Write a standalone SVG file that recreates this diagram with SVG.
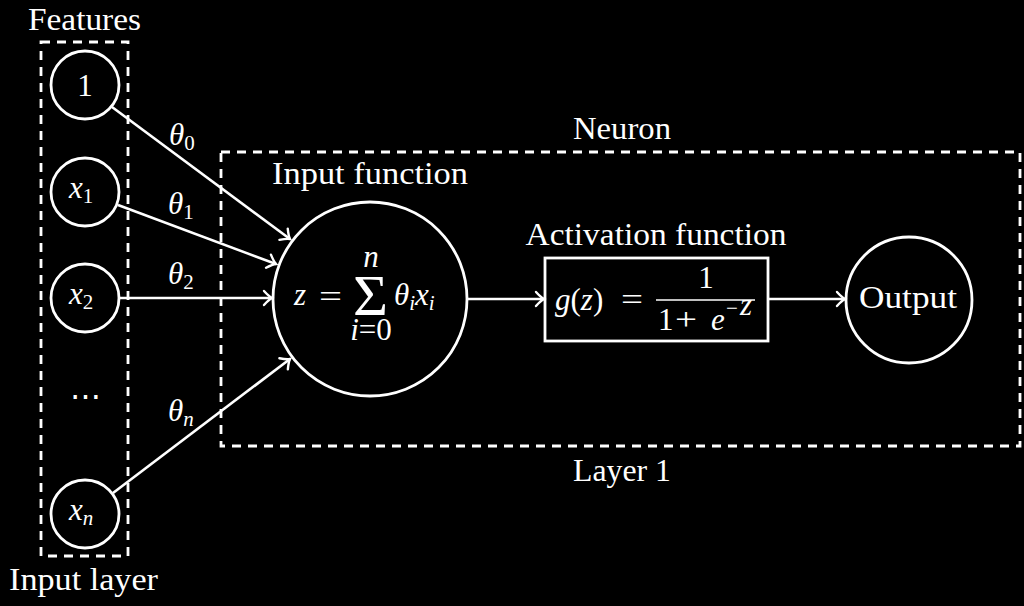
<svg xmlns="http://www.w3.org/2000/svg" width="1024" height="606" viewBox="0 0 1024 606">
<defs>
<style>
.t{font-family:"Liberation Serif","Times New Roman",serif;fill:#fff;font-size:31px}
.m{font-family:"Liberation Serif","Times New Roman",serif;fill:#fff;font-style:italic;font-size:31px}
.r{font-family:"Liberation Serif","Times New Roman",serif;fill:#fff;font-style:normal}
.sub{font-size:21px}
.node{fill:none;stroke:#fff;stroke-width:2.8}
.dash{fill:none;stroke:#fff;stroke-width:2.8;stroke-dasharray:9 7}
.edge{fill:none;stroke:#fff;stroke-width:2.6}
</style>
<marker id="arr" markerUnits="userSpaceOnUse" markerWidth="20" markerHeight="20" refX="0" refY="0" viewBox="-10 -10 20 20" orient="auto" overflow="visible">
<path d="M-8,-7 Q-3,-1.5 0,0 Q-3,1.5 -8,7" fill="none" stroke="#fff" stroke-width="2.4" stroke-linecap="round"/>
</marker>
</defs>
<rect width="1024" height="606" fill="#000"/>

<g id="input-layer">
<rect class="dash" x="41" y="42" width="87" height="514"/>
<text class="t" x="84.5" y="30" text-anchor="middle" textLength="113" lengthAdjust="spacingAndGlyphs">Features</text>
<text class="t" x="83.5" y="590" text-anchor="middle" textLength="149" lengthAdjust="spacingAndGlyphs">Input layer</text>
</g>

<g id="neuron-box">
<rect class="dash" x="221" y="152" width="799" height="294"/>
<text class="t" x="622" y="139" text-anchor="middle" textLength="98" lengthAdjust="spacingAndGlyphs">Neuron</text>
<text class="t" x="622" y="481" text-anchor="middle" textLength="98" lengthAdjust="spacingAndGlyphs">Layer 1</text>
</g>

<g id="node-1">
<circle class="node" cx="85" cy="85" r="34"/>
<text class="t" x="85" y="96" text-anchor="middle">1</text>
</g>
<g id="node-x1">
<circle class="node" cx="85" cy="192" r="34"/>
<text class="m" x="69" y="198">x<tspan class="r sub" dy="5">1</tspan></text>
</g>
<g id="node-x2">
<circle class="node" cx="85" cy="298" r="34"/>
<text class="m" x="69" y="304">x<tspan class="r sub" dy="5">2</tspan></text>
</g>
<g id="dots">
<text class="t" x="85" y="407" text-anchor="middle" textLength="32" lengthAdjust="spacing">⋯</text>
</g>
<g id="node-xn">
<circle class="node" cx="85" cy="514" r="34"/>
<text class="m" x="69" y="520">x<tspan class="sub" dy="5">n</tspan></text>
</g>

<g id="input-function">
<circle class="node" cx="370" cy="299" r="97"/>
<text class="t" x="370" y="184" text-anchor="middle" textLength="196" lengthAdjust="spacingAndGlyphs">Input function</text>
<text class="m" x="294" y="305">z</text>
<text class="r" x="319" y="307" font-size="31" textLength="23" lengthAdjust="spacingAndGlyphs">=</text>
<text class="r" x="353" y="315" font-size="56" textLength="35" lengthAdjust="spacingAndGlyphs">Σ</text>
<text class="m" x="371" y="267" font-size="21" text-anchor="middle">n</text>
<text class="m" x="371" y="340" font-size="21" text-anchor="middle">i<tspan class="r">=0</tspan></text>
<text class="m" x="394" y="305">θ<tspan class="sub" dy="5">i</tspan><tspan dy="-5">x</tspan><tspan class="sub" dy="5">i</tspan></text>
</g>

<g id="activation-function">
<rect class="node" x="545" y="258" width="223" height="83"/>
<text class="t" x="656" y="245" text-anchor="middle" textLength="261" lengthAdjust="spacingAndGlyphs">Activation function</text>
<text class="m" x="555" y="310">g<tspan class="r">(</tspan>z<tspan class="r">)</tspan></text>
<text class="r" x="621" y="310" font-size="31" textLength="22" lengthAdjust="spacingAndGlyphs">=</text>
<text class="r" x="706" y="288" font-size="31" text-anchor="middle">1</text>
<line x1="656" y1="300" x2="755" y2="300" stroke="#fff" stroke-width="1.6"/>
<text class="r" x="658" y="330" font-size="31">1</text>
<text class="r" x="675" y="330" font-size="31" textLength="22" lengthAdjust="spacingAndGlyphs">+</text>
<text class="m" x="711" y="330">e</text>
<text class="r" x="726" y="315" font-size="21">−</text>
<text class="m" x="740" y="315" font-size="21">z</text>
</g>

<g id="output">
<circle class="node" cx="909" cy="300" r="63"/>
<text class="t" x="908" y="308" text-anchor="middle" textLength="98" lengthAdjust="spacingAndGlyphs">Output</text>
</g>

<g id="connectors">
<line class="edge" x1="112" y1="107" x2="290" y2="239" marker-end="url(#arr)"/>
<line class="edge" x1="118" y1="205" x2="276" y2="264" marker-end="url(#arr)"/>
<line class="edge" x1="119" y1="298" x2="272" y2="298" marker-end="url(#arr)"/>
<line class="edge" x1="113" y1="493" x2="290" y2="359" marker-end="url(#arr)"/>
<line class="edge" x1="467" y1="299" x2="544" y2="299" marker-end="url(#arr)"/>
<line class="edge" x1="768" y1="299" x2="845" y2="299" marker-end="url(#arr)"/>
<text class="m" x="169" y="145">θ<tspan class="r sub" dy="5">0</tspan></text>
<text class="m" x="168" y="214">θ<tspan class="r sub" dy="5">1</tspan></text>
<text class="m" x="168" y="284">θ<tspan class="r sub" dy="5">2</tspan></text>
<text class="m" x="168" y="421">θ<tspan class="sub" dy="5">n</tspan></text>
</g>
</svg>
